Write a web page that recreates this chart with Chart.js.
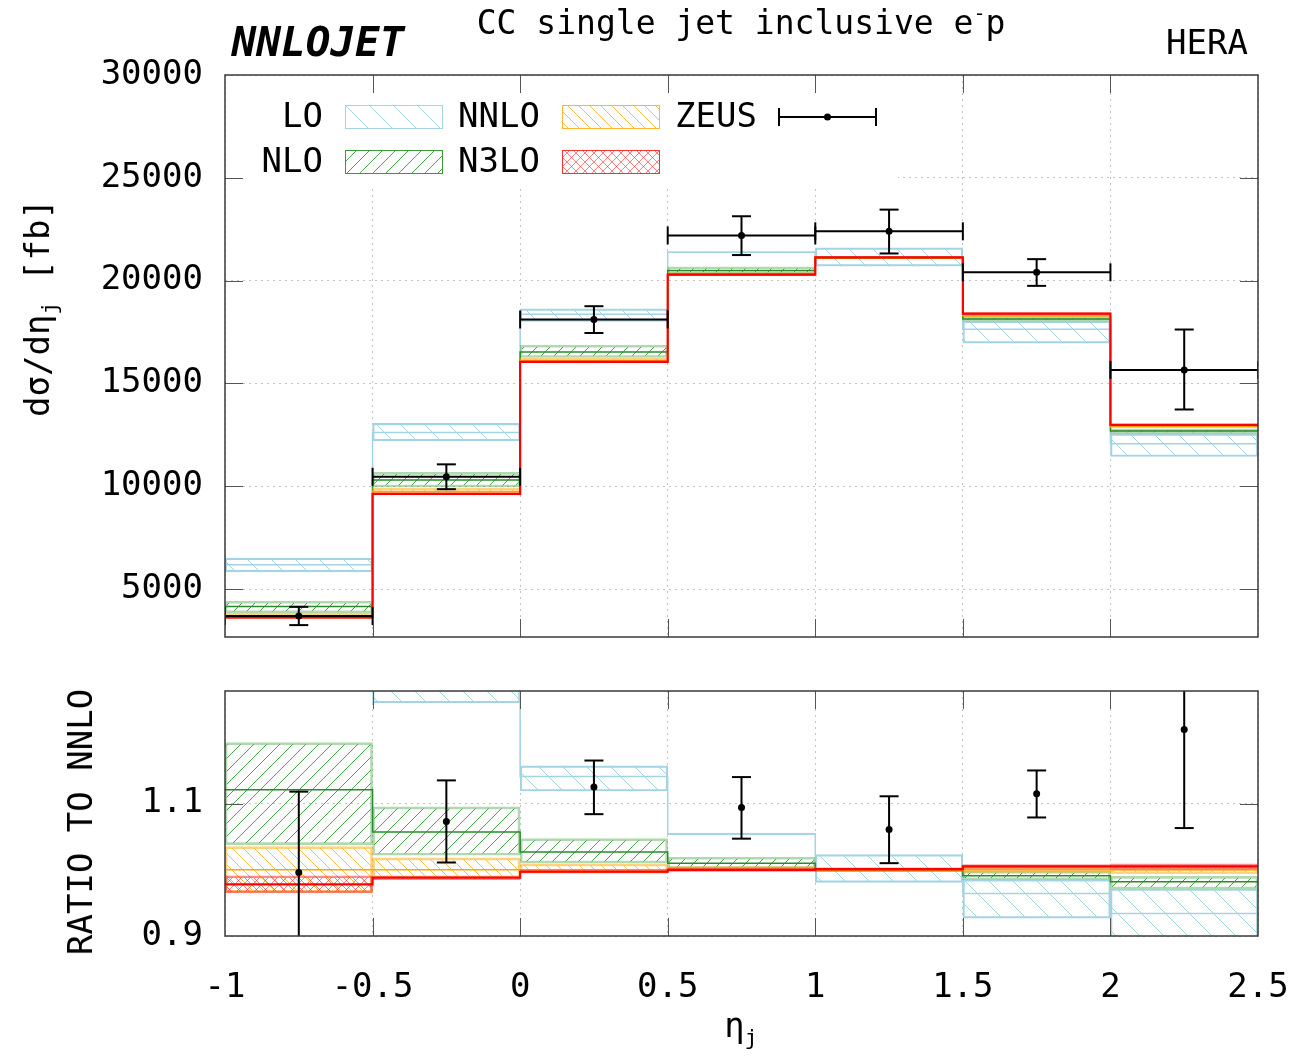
<!DOCTYPE html>
<html>
<head>
<meta charset="utf-8">
<title>CC single jet inclusive e-p</title>
<script src="https://cdn.jsdelivr.net/npm/chart.js@4.4.1/dist/chart.umd.min.js"></script>
<style>
  body { margin: 0; background: #fff; }
  #wrap { position: relative; width: 1298px; height: 1063px; overflow: hidden;
          font-family: "DejaVu Sans Mono", monospace; color: #000; }
  canvas { position: absolute; left: 0; }
  .lbl { position: absolute; white-space: nowrap; font-size: 34px; line-height: 1;
         transform: translate(-50%, -50%); }
  .rot { transform: translate(-50%, -50%) rotate(-90deg); }
  .sub { font-size: 22px; position: relative; top: 8px; }
</style>
</head>
<body>
<div id="wrap">
  <canvas id="c-main" width="1298" height="660" style="top:0"></canvas>
  <canvas id="c-ratio" width="1298" height="403" style="top:660px"></canvas>

  <div class="lbl" style="left:318px; top:42px; font-size:41px; font-weight:bold; font-style:italic">NNLOJET</div>
  <div class="lbl" style="left:741px; top:22px; font-size:33px">CC single jet inclusive e<span style="font-size:20px; position:relative; top:-14px">-</span>p</div>
  <div class="lbl" style="left:1207px; top:42px">HERA</div>
  <div class="lbl rot" style="left:37px; top:308px">dσ/dη<span class="sub">j</span> [fb]</div>
  <div class="lbl rot" style="left:80px; top:822px">RATIO TO NNLO</div>
  <div class="lbl" style="left:741px; top:1025px">η<span class="sub">j</span></div>
</div>

<script>
// ── DATA ───────────────────────────────────────────────────────
// bins in eta_j, every theory band stored as ratio to NNLO central
const edges       = [-1, -0.5, 0, 0.5, 1, 1.5, 2, 2.5];
const yTicksMain  = [5000, 10000, 15000, 20000, 25000, 30000];
const yTicksRatio = [0.9, 1.1];

// NNLO central cross section per bin [fb]
const nnloXs = [3700, 9750, 16100, 20290, 21110, 18300, 12920];

const loLow    = [1.578, 1.252, 1.119, 1.0525, 0.981, 0.927, 0.886];
const loMid    = [1.670, 1.294, 1.141, 1.054, 1.002, 0.964, 0.934];
const loHigh   = [1.759, 1.339, 1.157, 1.0556, 1.023, 0.985, 0.971];

const nloLow   = [1.038, 1.022, 1.010, 1.002, 0.997, 0.985, 0.971];
const nloMid   = [1.121, 1.057, 1.027, 1.010, 0.999, 0.991, 0.982];
const nloHigh  = [1.192, 1.095, 1.047, 1.019, 1.002, 0.998, 0.990];

const nnloLow  = [0.966, 0.988, 0.995, 0.997, 0.998, 0.996, 0.994];
const nnloMid  = [1, 1, 1, 1, 1, 1, 1];
const nnloHigh = [1.035, 1.018, 1.009, 1.005, 1.002, 1.003, 1.002];

const n3loLow  = [0.965, 0.985, 0.995, 0.998, 0.999, 1.002, 1.001];
const n3loMid  = [0.978, 0.988, 0.997, 1.000, 1.001, 1.005, 1.005];
const n3loHigh = [0.991, 0.990, 1.000, 1.003, 1.003, 1.008, 1.009];

// ZEUS data, also as ratio to NNLO
const zeusMid  = [0.996, 1.073, 1.125, 1.094, 1.061, 1.115, 1.212];
const zeusLow  = [0.878, 1.011, 1.084, 1.047, 1.010, 1.079, 1.063];
const zeusHigh = [1.118, 1.135, 1.165, 1.140, 1.111, 1.150, 1.364];

// ── STYLE ──────────────────────────────────────────────────────
Chart.defaults.font.family = '"DejaVu Sans Mono", monospace';
Chart.defaults.font.size = 34;
Chart.defaults.color = '#000';

const gridColor = '#c4c4c4';
const ones = edges.slice(1).map(() => 1);
const centers = edges.slice(0, -1).map((e, i) => (e + edges[i + 1]) / 2);

function hatch(color, step, kind, lw) {
  const c = document.createElement('canvas');
  c.width = c.height = step;
  const g = c.getContext('2d');
  g.strokeStyle = color;
  g.lineWidth = lw;
  if (kind !== 'back') {          // "/"
    g.beginPath();
    g.moveTo(-1, step + 1); g.lineTo(step + 1, -1);
    g.moveTo(-1, 1); g.lineTo(1, -1);
    g.moveTo(step - 1, step + 1); g.lineTo(step + 1, step - 1);
    g.stroke();
  }
  if (kind !== 'fwd') {           // "\"
    g.beginPath();
    g.moveTo(-1, -1); g.lineTo(step + 1, step + 1);
    g.moveTo(step - 1, -1); g.lineTo(step + 1, 1);
    g.moveTo(-1, step - 1); g.lineTo(1, step + 1);
    g.stroke();
  }
  return g.createPattern(c, 'repeat');
}

const styLO   = { fill: hatch('#a4d3e3', 24, 'back', 1), edge: '#a4d3e3', edgeW: 1.5, line: '#a4d3e3', lineW: 1.5, key: '#a4d3e3' };
const styNLO  = { fill: hatch('#45a845', 13, 'fwd', 1), edge: 'rgba(60,160,60,0.4)', edgeW: 2, line: '#2a8a2a', lineW: 1.5, key: '#3a9a3a' };
const styNNLO = { fill: hatch('#ffb733', 11, 'back', 0.9), edge: 'rgba(255,165,0,0.5)', edgeW: 2, line: '#ffa500', lineW: 1.5, key: '#ffb733' };
const styN3LO = { fill: hatch('rgba(255,40,40,0.75)', 9, 'cross', 0.8), edge: 'rgba(255,0,0,0.45)', edgeW: 2, line: '#ff0000', lineW: 2.2, key: '#ff3030' };

// ── DATASETS ───────────────────────────────────────────────────
function theorySets(scale) {
  const sets = [];
  const add = (low, mid, high, st, order) => {
    sets.push({
      type: 'bar', order: order + 1,
      data: centers.map((x, i) => ({ x, y: [low[i] * scale[i], high[i] * scale[i]] })),
      backgroundColor: st.fill, borderColor: st.edge, borderWidth: st.edgeW,
      borderSkipped: false, grouped: false, barPercentage: 1, categoryPercentage: 1
    });
    sets.push({
      type: 'line', order,
      data: centers.flatMap((x, i) => [
        { x: edges[i], y: mid[i] * scale[i] },
        { x: edges[i + 1], y: mid[i] * scale[i] }
      ]),
      borderColor: st.line, borderWidth: st.lineW, pointRadius: 0, fill: false
    });
  };
  add(loLow, loMid, loHigh, styLO, 80);
  add(nloLow, nloMid, nloHigh, styNLO, 60);
  add(nnloLow, nnloMid, nnloHigh, styNNLO, 40);
  add(n3loLow, n3loMid, n3loHigh, styN3LO, 20);
  return sets;
}

function zeusSets(scale, withXbar) {
  const sets = [{
    type: 'line', order: 2,
    data: centers.flatMap((x, i) => [
      { x, y: zeusLow[i] * scale[i] }, { x, y: zeusHigh[i] * scale[i] }, { x, y: null }
    ]),
    borderColor: '#000', borderWidth: 2,
    pointStyle: 'line', pointRadius: 9.5, pointBorderColor: '#000', pointBorderWidth: 2
  }, {
    type: 'scatter', order: 0,
    data: centers.map((x, i) => ({ x, y: zeusMid[i] * scale[i] })),
    pointStyle: 'circle', pointRadius: 3.5, pointBackgroundColor: '#000', pointBorderWidth: 0
  }];
  if (withXbar) {
    sets.push({
      type: 'line', order: 1,
      data: centers.flatMap((x, i) => [
        { x: edges[i], y: zeusMid[i] * scale[i] },
        { x: edges[i + 1], y: zeusMid[i] * scale[i] },
        { x: edges[i + 1], y: null }
      ]),
      borderColor: '#000', borderWidth: 2,
      pointStyle: 'line', pointRotation: 90, pointRadius: 9,
      pointBorderColor: '#000', pointBorderWidth: 2
    });
  }
  return sets;
}

// ── PLUGINS ────────────────────────────────────────────────────
// frame round the plot area and gnuplot-like inward ticks
const framePlugin = {
  id: 'frame',
  afterDraw(chart) {
    const { ctx, chartArea: a, scales: { x, y } } = chart;
    ctx.save();
    ctx.strokeStyle = '#555';
    ctx.lineWidth = 1;
    ctx.beginPath();
    x.ticks.forEach(t => {
      const p = Math.round(x.getPixelForValue(t.value)) + 0.5;
      if (p < a.left + 2 || p > a.right - 2) return;
      ctx.moveTo(p, a.top); ctx.lineTo(p, a.top + 18);
      ctx.moveTo(p, a.bottom); ctx.lineTo(p, a.bottom - 18);
    });
    y.ticks.forEach(t => {
      const p = Math.round(y.getPixelForValue(t.value)) + 0.5;
      if (p < a.top + 2 || p > a.bottom - 2) return;
      ctx.moveTo(a.left, p); ctx.lineTo(a.left + 18, p);
      ctx.moveTo(a.right, p); ctx.lineTo(a.right - 18, p);
    });
    ctx.stroke();
    ctx.strokeStyle = '#3a3a3a';
    ctx.lineWidth = 1.5;
    ctx.strokeRect(a.left, a.top, a.right - a.left, a.bottom - a.top);
    ctx.restore();
  }
};

// key box in the upper-left corner of the main panel
const keyPlugin = {
  id: 'key',
  beforeDatasetsDraw(chart) {
    const { ctx, chartArea: a } = chart;
    ctx.save();
    ctx.fillStyle = '#fff';
    ctx.fillRect(a.left + 1, a.top + 1, 672, 110);
    ctx.restore();
  },
  afterDraw(chart) {
    const { ctx } = chart;
    const rows = [
      [['LO', 323, styLO], ['NNLO', 540, styNNLO], ['ZEUS', 757, null]],
      [['NLO', 323, styNLO], ['N3LO', 540, styN3LO]]
    ];
    ctx.save();
    ctx.font = '34px "DejaVu Sans Mono", monospace';
    ctx.textAlign = 'right';
    ctx.textBaseline = 'middle';
    rows.forEach((row, r) => {
      const yc = 117 + r * 45;
      row.forEach(([txt, xr, st]) => {
        ctx.fillStyle = '#000';
        ctx.fillText(txt, xr, yc + 1);
        const x0 = xr + 22, w = 97;
        if (st) {
          ctx.fillStyle = st.fill;
          ctx.fillRect(x0, yc - 12, w, 24);
          ctx.strokeStyle = st.key;
          ctx.lineWidth = 1;
          ctx.strokeRect(x0 + 0.5, yc - 11.5, w, 23);
        } else {
          ctx.strokeStyle = '#000';
          ctx.lineWidth = 2;
          ctx.beginPath();
          ctx.moveTo(x0, yc); ctx.lineTo(x0 + w, yc);
          ctx.moveTo(x0, yc - 9); ctx.lineTo(x0, yc + 9);
          ctx.moveTo(x0 + w, yc - 9); ctx.lineTo(x0 + w, yc + 9);
          ctx.stroke();
          ctx.fillStyle = '#000';
          ctx.beginPath();
          ctx.arc(x0 + w / 2, yc, 3.5, 0, Math.PI * 2);
          ctx.fill();
        }
      });
    });
    ctx.restore();
  }
};

// ── SHARED OPTIONS ─────────────────────────────────────────────
function panelOptions(yMin, yMax, yTicks, yFmt, showX, pad, xHeight) {
  return {
    responsive: false,
    animation: false,
    devicePixelRatio: 1,
    events: [],
    layout: { padding: pad },
    plugins: { legend: { display: false }, tooltip: { enabled: false } },
    scales: {
      x: {
        type: 'linear', min: -1, max: 2.5, offset: false,
        afterBuildTicks: s => { s.ticks = edges.map(v => ({ value: v })); },
        afterFit: s => { s.height = xHeight; s.paddingLeft = 0; s.paddingRight = 0; },
        ticks: { display: showX, autoSkip: false, maxRotation: 0, padding: 32, callback: v => String(v) },
        grid: { offset: false, color: gridColor, drawTicks: false },
        border: { display: false, dash: [2, 4] }
      },
      y: {
        type: 'linear', min: yMin, max: yMax,
        afterBuildTicks: s => { s.ticks = yTicks.map(v => ({ value: v })); },
        afterFit: s => { s.width = 225; s.paddingTop = 0; s.paddingBottom = 0; },
        ticks: { padding: 22, callback: yFmt },
        grid: { color: gridColor, drawTicks: false },
        border: { display: false, dash: [2, 4] }
      }
    }
  };
}

// ── 1. CROSS SECTION PANEL ────────────────────────────────────
new Chart(document.getElementById('c-main'), {
  type: 'bar',
  data: { datasets: [...theorySets(nnloXs), ...zeusSets(nnloXs, true)] },
  options: panelOptions(2670, 30000, yTicksMain, v => String(v), false,
    { top: 75, right: 40, bottom: 23, left: 0 }, 0),
  plugins: [keyPlugin, framePlugin]
});

// ── 2. RATIO PANEL ────────────────────────────────────────────
new Chart(document.getElementById('c-ratio'), {
  type: 'bar',
  data: { datasets: [...theorySets(ones), ...zeusSets(ones, false)] },
  options: panelOptions(0.9, 1.27, yTicksRatio, v => v.toFixed(1), true,
    { top: 31, right: 40, bottom: 0, left: 0 }, 127),
  plugins: [framePlugin]
});
</script>
</body>
</html>
